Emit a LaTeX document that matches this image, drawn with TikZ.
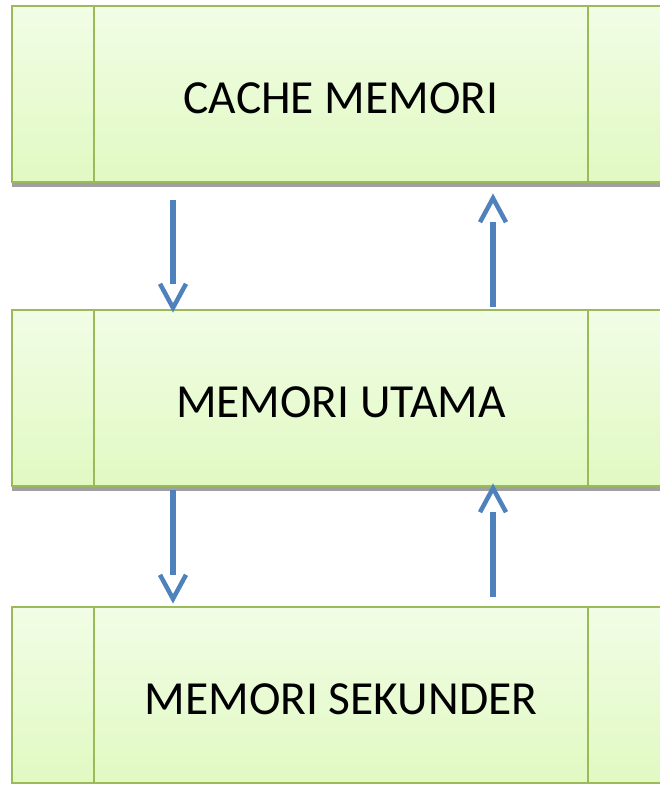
\documentclass[tikz,border=0pt]{standalone}
\usepackage{fontspec}
\setmainfont{Carlito}
\usetikzlibrary{calc}
\definecolor{boxgreen}{HTML}{9BBB59}
\definecolor{filltop}{HTML}{F1FDE6}
\definecolor{fillbot}{HTML}{E1F9C2}
\definecolor{arrowblue}{HTML}{4F81BD}
\definecolor{shadowgray}{HTML}{A0A0A0}
\tikzset{
  membox/.style={draw=boxgreen, line width=2.4pt, top color=filltop, bottom color=fillbot,
    minimum width=658pt, minimum height=176pt, inner sep=0pt,
    text height=38.5pt, text depth=0pt,
    font=\fontsize{47.5}{57}\selectfont},
  divider/.style={draw=boxgreen, line width=2.4pt},
  shadowband/.style={fill=shadowgray},
  shaft/.style={draw=arrowblue, line width=6pt, line cap=butt},
  vhead/.style={draw=arrowblue, line width=4.5pt, line join=miter, line cap=butt}
}
\begin{document}
\begin{tikzpicture}[x=1pt,y=-1pt]
\useasboundingbox (0,0) rectangle (660,785);
\clip (0,0) rectangle (660,785);
\fill[white] (0,0) rectangle (660,785);

% shadows
\fill[shadowband] (12,182) rectangle (671,187);
\fill[shadowband] (12,486) rectangle (671,491);

% boxes
\node[membox] (cache) at (341,94) {CACHE MEMORI};
\node[membox] (utama) at (341,398) {MEMORI UTAMA};
\node[membox] (sekunder) at (341,695) {MEMORI SEKUNDER};

% dividers
\foreach \b in {cache,utama,sekunder}{
  \draw[divider] ([xshift=83pt]\b.north west) -- ([xshift=83pt]\b.south west);
  \draw[divider] ([xshift=-83pt]\b.north east) -- ([xshift=-83pt]\b.south east);
}

% arrow coordinates
\coordinate (a1s) at ($(cache.south)+(-168,17)$);
\coordinate (a1t) at ($(utama.north)+(-168,-1)$);
\coordinate (b1s) at ($(utama.north)+(152,-2)$);
\coordinate (b1t) at ($(cache.south)+(152,15)$);
\coordinate (a2s) at ($(utama.south)+(-168,3)$);
\coordinate (a2t) at ($(sekunder.north)+(-168,-7)$);
\coordinate (b2s) at ($(sekunder.north)+(152,-9)$);
\coordinate (b2t) at ($(utama.south)+(152,1)$);

% down arrows
\draw[shaft] (a1s) -- ($(a1t)+(0,-24)$);
\draw[vhead] ($(a1t)+(-13,-24)$) -- (a1t) -- ($(a1t)+(13,-24)$);
\draw[shaft] (a2s) -- ($(a2t)+(0,-24)$);
\draw[vhead] ($(a2t)+(-13,-24)$) -- (a2t) -- ($(a2t)+(13,-24)$);

% up arrows
\draw[shaft] (b1s) -- ($(b1t)+(0,24)$);
\draw[vhead] ($(b1t)+(-13,24)$) -- (b1t) -- ($(b1t)+(13,24)$);
\draw[shaft] (b2s) -- ($(b2t)+(0,24)$);
\draw[vhead] ($(b2t)+(-13,24)$) -- (b2t) -- ($(b2t)+(13,24)$);
\end{tikzpicture}
\end{document}
